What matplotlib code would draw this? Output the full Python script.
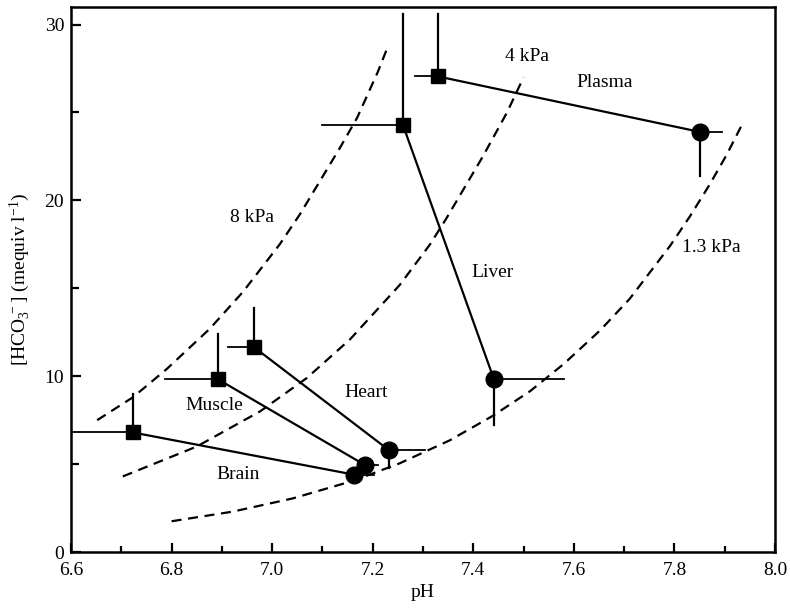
import matplotlib
matplotlib.use("Agg")
import matplotlib.pyplot as plt
from matplotlib.ticker import MultipleLocator

plt.rcParams["font.family"] = ["Liberation Serif", "DejaVu Serif"]
plt.rcParams["mathtext.fontset"] = "custom"
plt.rcParams["mathtext.rm"] = "Liberation Serif"

# tissue values: square = first state, circle = second state
tissues = ["Plasma", "Liver", "Heart", "Muscle", "Brain"]
sq_ph = [7.33, 7.26, 6.964, 6.892, 6.723]
sq_hco3 = [27.05, 24.3, 11.65, 9.83, 6.8]
sq_ph_err = [0.045, 0.16, 0.052, 0.105, 0.123]   # to the left
sq_hco3_err = [3.55, 6.3, 2.25, 2.57, 2.2]       # upward
ci_ph = [7.85, 7.441, 7.232, 7.185, 7.163]
ci_hco3 = [23.9, 9.83, 5.8, 4.94, 4.4]
ci_ph_err = [0.044, 0.14, 0.072, 0.025, 0.04]    # to the right
ci_hco3_err = [2.5, 2.6, 1.0, 0.0, 0.0]          # downward

# PCO2 isopleths
iso_8_ph = [6.652, 6.723, 6.79, 6.876, 6.942, 7.015, 7.055, 7.135, 7.169, 7.21, 7.228]
iso_8_hco3 = [7.5, 8.8, 10.4, 12.7, 14.8, 17.5, 19.2, 23.0, 24.7, 27.3, 28.6]
iso_4_ph = [6.703, 6.85, 6.976, 7.069, 7.155, 7.254, 7.314, 7.347, 7.419, 7.467, 7.5]
iso_4_hco3 = [4.3, 6.0, 8.0, 9.9, 12.1, 15.2, 17.5, 19.0, 22.5, 25.0, 27.0]
iso_13_ph = [6.8, 6.922, 7.041, 7.161, 7.254, 7.353, 7.439, 7.513, 7.58, 7.652, 7.711,
             7.751, 7.791, 7.831, 7.87, 7.904, 7.936]
iso_13_hco3 = [1.75, 2.3, 3.05, 4.05, 5.05, 6.35, 7.75, 9.15, 10.7, 12.6, 14.4,
               15.9, 17.4, 19.1, 20.9, 22.6, 24.4]

labels = [("8 kPa", 6.96, 19.0), ("4 kPa", 7.506, 28.2), ("Plasma", 7.662, 26.7),
          ("Liver", 7.439, 15.9), ("1.3 kPa", 7.874, 17.3), ("Heart", 7.186, 9.1),
          ("Muscle", 6.884, 8.35), ("Brain", 6.932, 4.4)]

fig = plt.figure(figsize=(7.9, 6.15), dpi=100)
ax = fig.add_axes([0.0899, 0.1024, 0.8911, 0.8862])

dash = dict(color="black", linestyle=(0, (4.5, 3)), linewidth=1.6)
ax.plot(iso_8_ph, iso_8_hco3, **dash)
ax.plot(iso_4_ph, iso_4_hco3, **dash)
ax.plot(iso_13_ph, iso_13_hco3, **dash)

for i in range(len(tissues)):
    ax.plot([sq_ph[i], ci_ph[i]], [sq_hco3[i], ci_hco3[i]], color="black", linewidth=1.6)
    # one-sided error bars
    ax.plot([sq_ph[i] - sq_ph_err[i], sq_ph[i]], [sq_hco3[i]] * 2, color="black", linewidth=1.3)
    ax.plot([sq_ph[i]] * 2, [sq_hco3[i], sq_hco3[i] + sq_hco3_err[i]], color="black", linewidth=1.6)
    ax.plot([ci_ph[i], ci_ph[i] + ci_ph_err[i]], [ci_hco3[i]] * 2, color="black", linewidth=1.3)
    ax.plot([ci_ph[i]] * 2, [ci_hco3[i], ci_hco3[i] - ci_hco3_err[i]], color="black", linewidth=1.6)

ax.plot(sq_ph, sq_hco3, "s", color="black", markersize=10.5, linestyle="none")
ax.plot(ci_ph, ci_hco3, "o", color="black", markersize=12, linestyle="none")

for text, x, y in labels:
    ax.text(x, y, text, fontsize=14, ha="center", va="center")

ax.set_xlim(6.6, 8.0)
ax.set_ylim(0, 31)
ax.xaxis.set_major_locator(MultipleLocator(0.2))
ax.xaxis.set_minor_locator(MultipleLocator(0.1))
ax.yaxis.set_major_locator(MultipleLocator(10))
ax.yaxis.set_minor_locator(MultipleLocator(5))
ax.xaxis.set_major_formatter(plt.FuncFormatter(lambda v, p: f"{v:.1f}"))
ax.tick_params(which="both", direction="in", top=False, right=False, width=1.6, labelsize=14)
ax.tick_params(axis="x", which="major", length=6.5, pad=7)
ax.tick_params(axis="x", which="minor", length=4.3)
ax.tick_params(axis="y", which="major", length=7.5, pad=5)
ax.tick_params(axis="y", which="minor", length=5.5)
for s in ax.spines.values():
    s.set_linewidth(1.8)

ax.set_xlabel("pH", fontsize=14, labelpad=4)
ax.set_ylabel(r"[HCO$\mathregular{_3^{\,-}}$] (mequiv l$\mathregular{^{-1}}$)", fontsize=14, labelpad=8)

fig.savefig("out.png", dpi=100)
